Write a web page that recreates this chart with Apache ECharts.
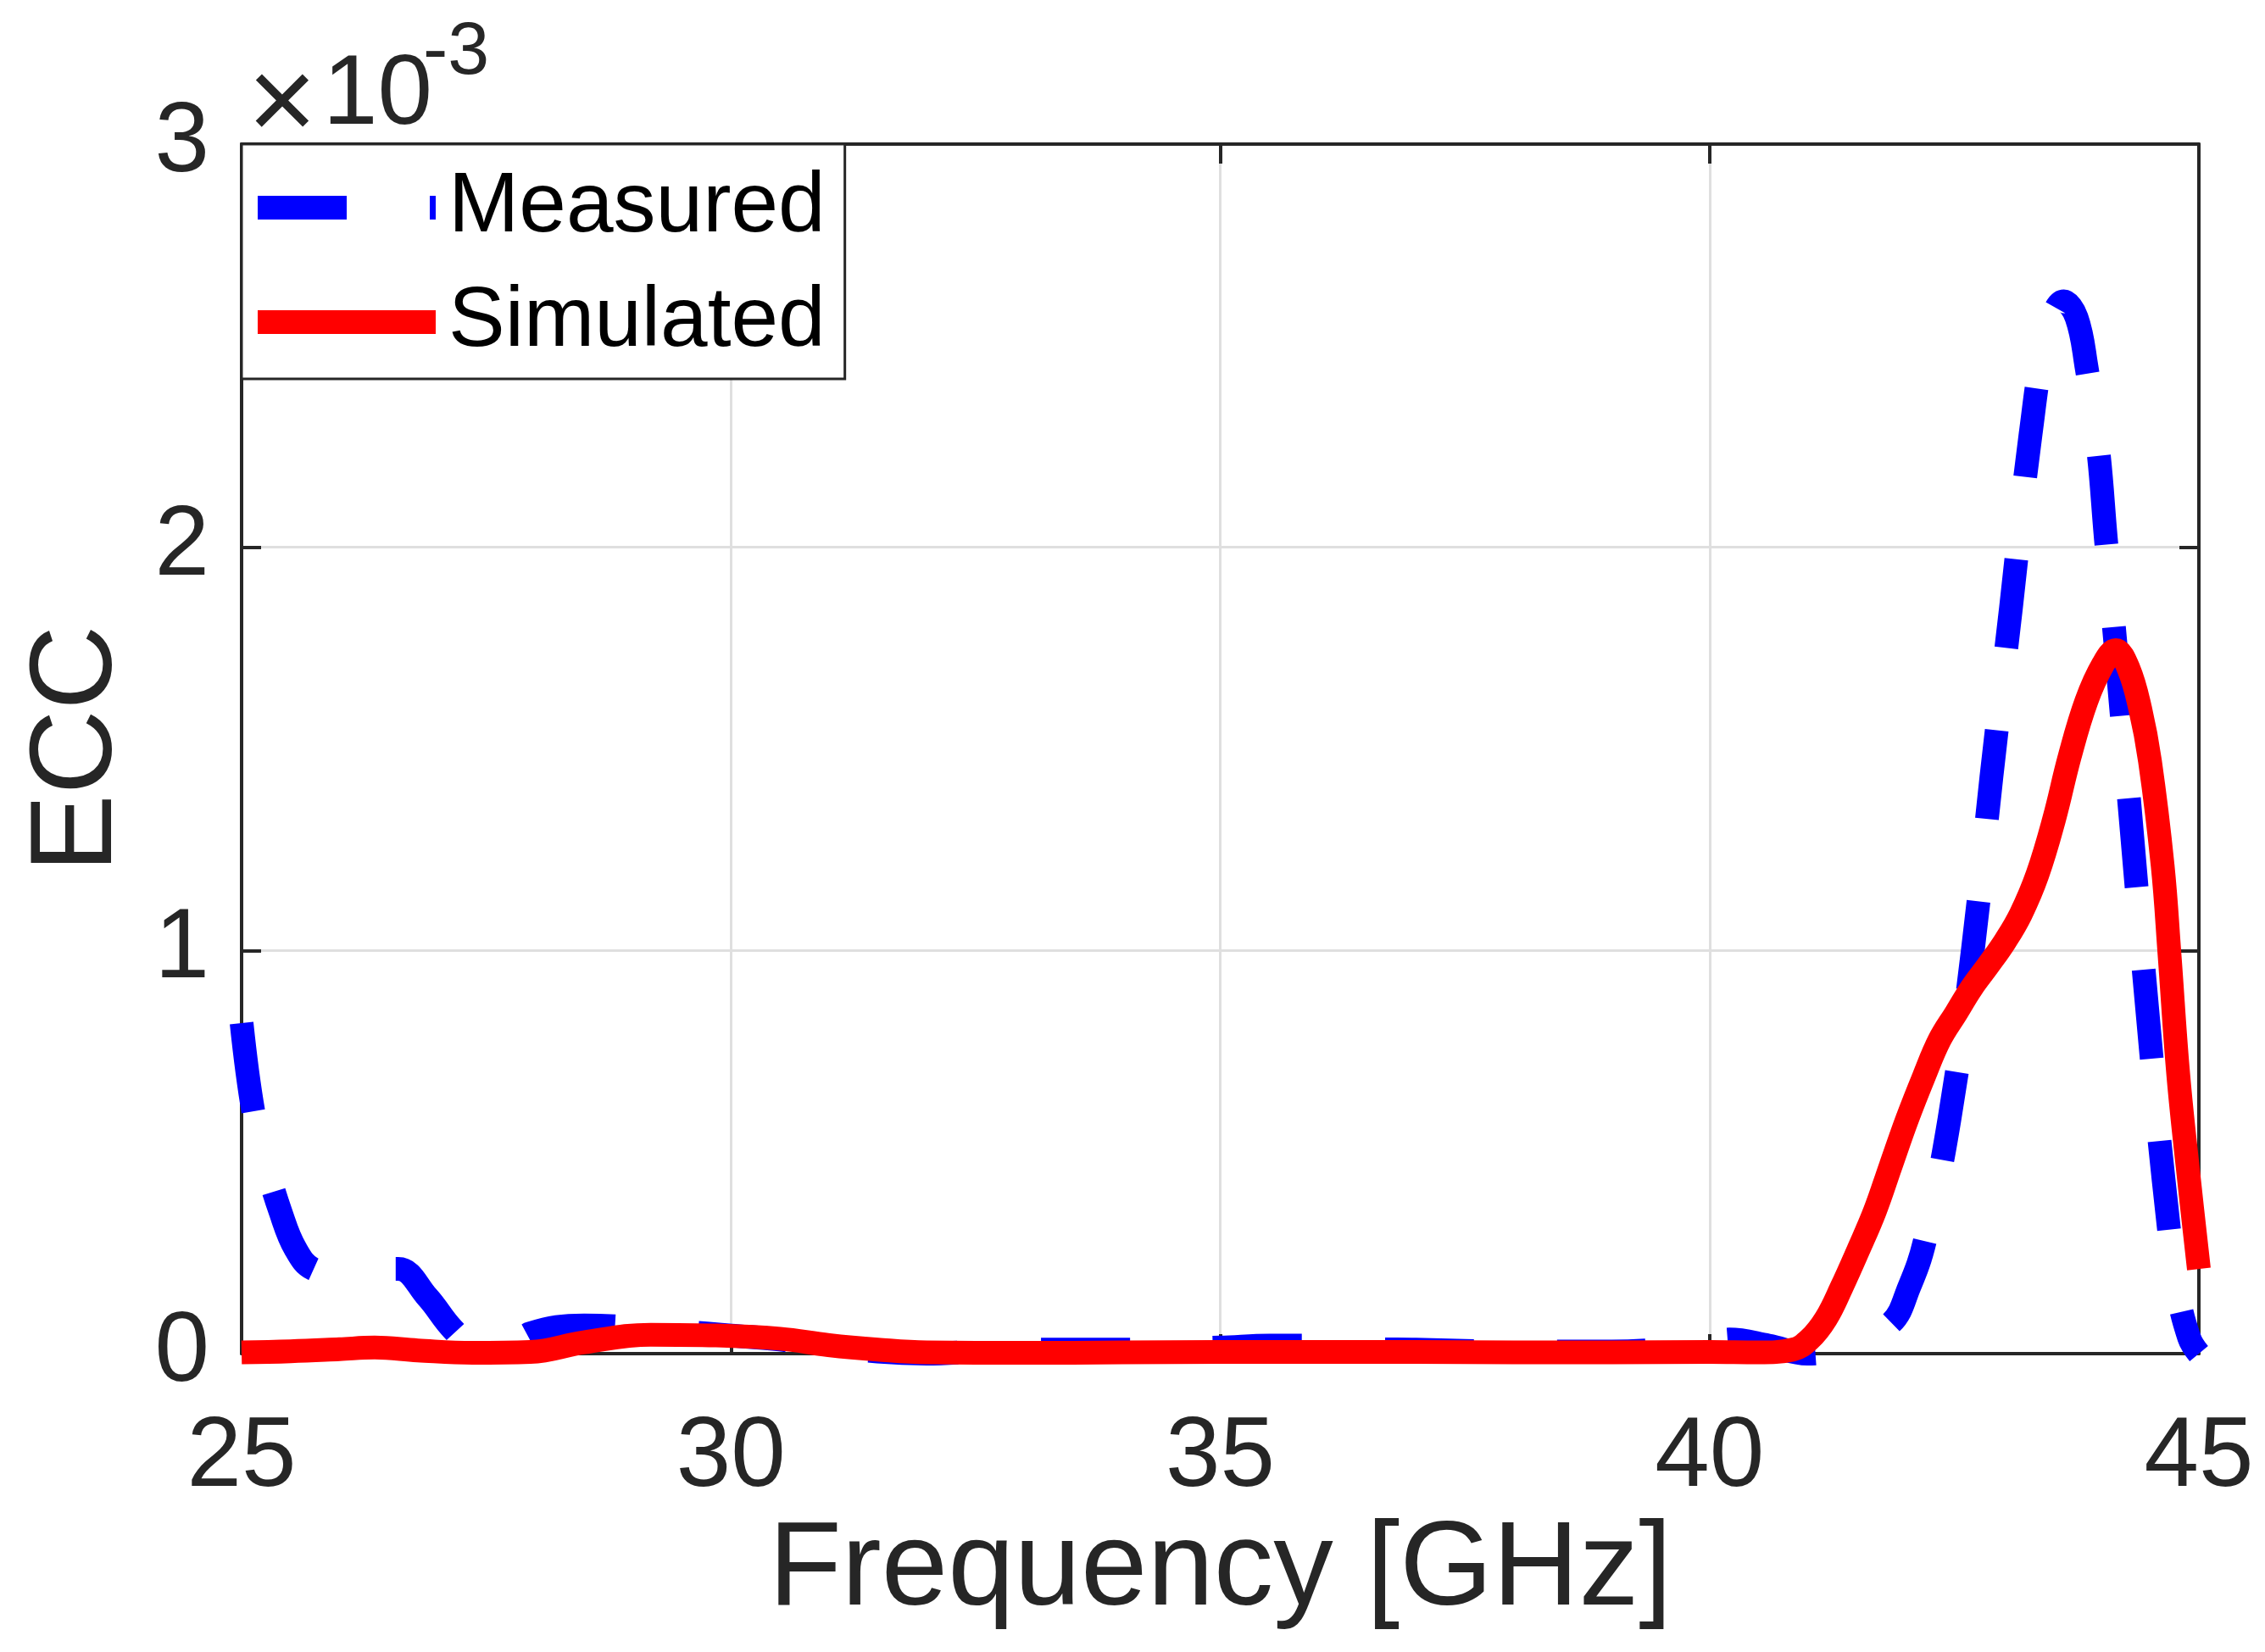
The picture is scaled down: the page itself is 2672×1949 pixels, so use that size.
<!DOCTYPE html>
<html>
<head>
<meta charset="utf-8">
<title>ECC</title>
<script src="https://cdn.jsdelivr.net/npm/echarts@6/dist/echarts.min.js"></script>
<style>
  html, body { margin: 0; padding: 0; background: #fff; }
  #chart { width: 2672px; height: 1949px; }
</style>
</head>
<body>
<div id="chart"></div>
<script>
// ECC values are given in units of 1e-3 (the axis carries the x10^-3 multiplier)
const measuredFreq = [25.0, 25.12, 25.25, 25.4, 25.55, 25.73, 26.0, 26.3, 26.6, 26.9, 27.16, 27.4, 27.7, 27.95, 28.5, 29.0, 29.5, 30.0, 30.5, 31.0, 31.5, 32.0, 32.5, 33.0, 34.0, 35.0, 35.5, 36.0, 36.5, 37.0, 38.0, 39.0, 39.5, 40.0, 40.2, 40.6, 41.0, 41.4, 41.85, 42.04, 42.2, 42.45, 42.69, 42.88, 43.08, 43.28, 43.45, 43.62, 43.75, 43.85, 43.97, 44.05, 44.17, 44.32, 44.47, 44.64, 44.78, 44.9, 45.0];
const measuredEcc = [0.82, 0.60, 0.47, 0.35, 0.26, 0.21, 0.20, 0.21, 0.21, 0.14, 0.06, 0.015, 0.01, 0.05, 0.07, 0.065, 0.055, 0.045, 0.035, 0.02, 0.005, 0.0, 0.005, 0.01, 0.01, 0.015, 0.02, 0.02, 0.012, 0.01, 0.005, 0.005, 0.01, 0.02, 0.035, 0.02, 0.0, 0.02, 0.075, 0.165, 0.28, 0.58, 1.00, 1.43, 1.85, 2.28, 2.53, 2.61, 2.57, 2.45, 2.245, 2.02, 1.70, 1.28, 0.86, 0.43, 0.16, 0.04, 0.0];

const simulatedFreq = [25.0, 25.5, 26.0, 26.36, 26.8, 27.36, 27.95, 28.5, 29.18, 29.85, 30.5, 31.0, 31.5, 32.0, 33.0, 34.0, 35.0, 36.0, 37.0, 38.0, 39.0, 40.0, 40.5, 40.85, 41.02, 41.19, 41.35, 41.52, 41.69, 41.85, 42.02, 42.19, 42.35, 42.52, 42.68, 42.85, 43.02, 43.18, 43.35, 43.52, 43.68, 43.85, 44.02, 44.15, 44.28, 44.4, 44.5, 44.63, 44.7, 44.79, 44.9, 45.0];
const simulatedEcc = [0.003, 0.006, 0.011, 0.015, 0.008, 0.002, 0.004, 0.028, 0.047, 0.045, 0.037, 0.021, 0.01, 0.003, 0.002, 0.003, 0.004, 0.004, 0.004, 0.003, 0.003, 0.004, 0.003, 0.01, 0.035, 0.087, 0.165, 0.257, 0.354, 0.465, 0.582, 0.687, 0.778, 0.845, 0.908, 0.964, 1.023, 1.09, 1.188, 1.325, 1.481, 1.618, 1.709, 1.745, 1.70, 1.60, 1.47, 1.21, 0.99, 0.69, 0.43, 0.21];

const seriesNames = ["Measured", "Simulated"];
const xRange = [25, 45];
const xStep = 5;
const yRange = [0, 3];
const yStep = 1;

const FONT = "'Liberation Sans', Arial, Helvetica, sans-serif";
const AXIS_COLOR = "#262626";

const toPairs = (xs, ys) => xs.map((x, i) => [x, ys[i]]);

const chart = echarts.init(document.getElementById("chart"), null, { renderer: "canvas" });

const tickStyle = { show: true, inside: true, length: 23, lineStyle: { color: AXIS_COLOR, width: 4 } };
const lineAxis = { show: true, onZero: false, lineStyle: { color: AXIS_COLOR, width: 4 } };

const option = {
  animation: false,
  backgroundColor: "#fff",
  grid: { left: 285, right: 78, top: 170, bottom: 352, containLabel: false },
  legend: {
    orient: "vertical",
    left: 285,
    top: 170,
    padding: [8, 23, 0, 5],
    itemWidth: 210,
    itemHeight: 30,
    itemGap: 1,
    borderColor: AXIS_COLOR,
    borderWidth: 3,
    borderRadius: 0,
    backgroundColor: "#fff",
    lineStyle: { width: 28 },
    itemStyle: { opacity: 0 },
    // extra top padding drops the label a little below the line sample, as in the original
    textStyle: { fontSize: 100, lineHeight: 84, padding: [50, 0, 0, 10], color: "#000", fontFamily: FONT },
    data: seriesNames,
  },
  xAxis: [
    {
      type: "value",
      min: xRange[0],
      max: xRange[1],
      interval: xStep,
      name: "Frequency [GHz]",
      nameLocation: "middle",
      nameGap: 186,
      nameTextStyle: { fontSize: 141, color: AXIS_COLOR, fontFamily: FONT },
      axisLine: lineAxis,
      axisTick: tickStyle,
      axisLabel: { fontSize: 116, color: AXIS_COLOR, fontFamily: FONT, margin: 66 },
      splitLine: { show: true, lineStyle: { color: "#dfdfdf", width: 3 } },
    },
    {
      type: "value",
      position: "top",
      min: xRange[0],
      max: xRange[1],
      interval: xStep,
      axisLine: lineAxis,
      axisTick: tickStyle,
      axisLabel: { show: false },
      splitLine: { show: false },
    },
  ],
  yAxis: [
    {
      type: "value",
      min: yRange[0],
      max: yRange[1],
      interval: yStep,
      name: "ECC",
      nameLocation: "middle",
      nameGap: 123,
      nameTextStyle: { fontSize: 138, color: AXIS_COLOR, fontFamily: FONT },
      axisLine: lineAxis,
      axisTick: tickStyle,
      axisLabel: { fontSize: 116, color: AXIS_COLOR, fontFamily: FONT, margin: 38, padding: [8, 0, 0, 0] },
      splitLine: { show: true, lineStyle: { color: "#dfdfdf", width: 3 } },
    },
    {
      type: "value",
      position: "right",
      min: yRange[0],
      max: yRange[1],
      interval: yStep,
      axisLine: lineAxis,
      axisTick: tickStyle,
      axisLabel: { show: false },
      splitLine: { show: false },
    },
  ],
  graphic: [
    {
      type: "text",
      x: 292,
      y: 126,
      style: { text: "\u00d7", fontSize: 140, fontFamily: FONT, fill: AXIS_COLOR, verticalAlign: "middle", align: "left" },
    },
    {
      type: "text",
      x: 381,
      y: 114,
      style: { text: "10", fontSize: 116, fontFamily: FONT, fill: AXIS_COLOR, verticalAlign: "middle", align: "left" },
    },
    {
      type: "text",
      x: 499,
      y: 63,
      style: { text: "-3", fontSize: 88, fontFamily: FONT, fill: AXIS_COLOR, verticalAlign: "middle", align: "left" },
    },
  ],
  series: [
    {
      name: seriesNames[0],
      type: "line",
      data: toPairs(measuredFreq, measuredEcc),
      symbol: "none",
      smooth: 0.4,
      clip: false,
      color: "#0000ff",
      lineStyle: { color: "#0000ff", width: 28, type: [105, 98], cap: "butt", join: "round" },
      emphasis: { disabled: true },
      z: 2,
    },
    {
      name: seriesNames[1],
      type: "line",
      data: toPairs(simulatedFreq, simulatedEcc),
      symbol: "none",
      smooth: 0.4,
      clip: false,
      color: "#ff0000",
      lineStyle: { color: "#ff0000", width: 28, type: "solid", cap: "butt", join: "round" },
      emphasis: { disabled: true },
      z: 3,
    },
  ],
};

chart.setOption(option);
</script>
</body>
</html>
